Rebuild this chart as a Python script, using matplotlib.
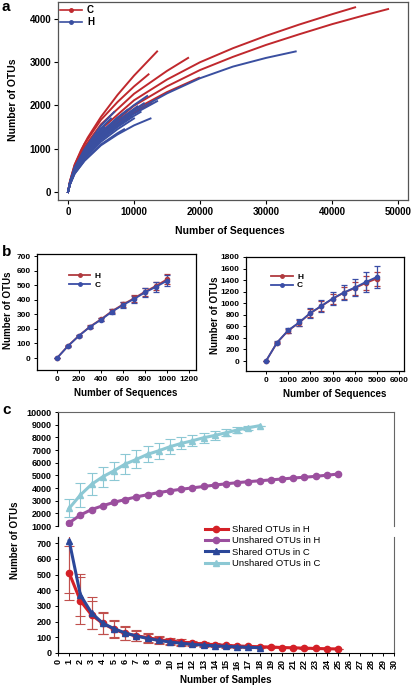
import matplotlib
matplotlib.use("Agg")
import matplotlib.pyplot as plt
from matplotlib.lines import Line2D

plt.rcParams['font.family'] = ['Liberation Sans', 'DejaVu Sans']
plt.rcParams['font.weight'] = 'bold'

# ---- panel a: rarefaction curves per sample (C red, H blue)
a_c_x = [
    [0, 300, 1000, 2000, 3000, 5000, 7500, 10000, 13500],
    [0, 300, 1000, 2500, 5000, 7500, 10000, 12200],
    [0, 300, 1000, 2500, 5000, 10000, 15000, 18200],
    [0, 300, 1000, 2500, 5000, 10000, 15000, 20000, 25000, 30000, 35000, 40000, 43500],
    [0, 300, 1000, 2500, 5000, 10000, 15000, 20000, 25000, 30000, 35000, 40000, 45000, 48500],
    [0, 300, 1000, 2500, 5000, 10000, 15000, 19850],
    [0, 300, 1000, 2500, 5000, 7500, 10000, 12700],
    [0, 300, 1000, 2500, 5000, 7500, 9000],
]
a_c_y = [
    [0, 255, 630, 976, 1260, 1738, 2244, 2690, 3250],
    [0, 245, 618, 1113, 1670, 2080, 2440, 2720],
    [0, 230, 580, 1043, 1565, 2270, 2800, 3100],
    [0, 213, 526, 955, 1450, 2120, 2600, 3000, 3325, 3610, 3870, 4110, 4270],
    [0, 200, 495, 898, 1361, 1995, 2443, 2820, 3125, 3400, 3645, 3880, 4090, 4230],
    [0, 192, 475, 860, 1300, 1900, 2310, 2640],
    [0, 195, 480, 870, 1280, 1580, 1830, 2050],
    [0, 185, 460, 840, 1260, 1560, 1700],
]
a_h_x = [
    [0, 300, 1000, 2500, 5000, 10000, 15000, 20000, 25000, 30000, 34500],
    [0, 300, 1000, 2500, 5000, 7500, 10000, 12000],
    [0, 300, 1000, 2500, 5000, 7500, 10000, 13500],
    [0, 300, 1000, 2500, 5000, 7500, 9700],
    [0, 300, 1000, 2500, 5000, 7000],
    [0, 300, 1000, 2500, 5000, 6000],
    [0, 300, 1000, 2500, 5000, 8000],
    [0, 300, 1000, 2500, 5000, 7500, 10500],
    [0, 300, 1000, 2500, 5000, 5500],
    [0, 300, 1000, 2500, 5000, 7500, 10000, 11000],
    [0, 300, 1000, 2500, 5000, 7500, 9000],
    [0, 300, 1000, 2500, 5000, 7500],
    [0, 300, 1000, 2500, 5000, 7500, 10000, 12500],
    [0, 300, 1000, 2500, 5000, 7500, 8500],
    [0, 300, 1000, 2500, 5000, 6500],
    [0, 300, 1000, 2500, 5000, 7500, 10000],
    [0, 300, 1000, 2500, 5000, 7500, 10000, 11500],
]
a_h_y = [
    [0, 187, 462, 838, 1270, 1860, 2280, 2630, 2900, 3100, 3250],
    [0, 210, 520, 940, 1370, 1715, 2010, 2220],
    [0, 200, 487, 843, 1278, 1565, 1807, 2100],
    [0, 195, 477, 825, 1250, 1530, 1740],
    [0, 225, 565, 990, 1537, 1850],
    [0, 205, 505, 875, 1312, 1450],
    [0, 192, 470, 815, 1235, 1600],
    [0, 203, 500, 870, 1316, 1645, 1980],
    [0, 220, 550, 950, 1425, 1500],
    [0, 188, 460, 795, 1200, 1500, 1760, 1850],
    [0, 212, 525, 915, 1380, 1720, 1900],
    [0, 210, 520, 900, 1360, 1700],
    [0, 175, 420, 720, 1080, 1330, 1540, 1700],
    [0, 175, 425, 730, 1100, 1360, 1450],
    [0, 222, 555, 970, 1472, 1700],
    [0, 182, 445, 770, 1162, 1452, 1700],
    [0, 200, 495, 860, 1298, 1622, 1900, 2050],
]

# ---- panel b: mean rarefaction with error bars
b1_seq = [0, 100, 200, 300, 400, 500, 600, 700, 800, 900, 1000]
b1_h = [0, 84, 154, 216, 266, 322, 368, 410, 455, 495, 540]
b1_h_err = [0, 4, 6, 9, 12, 15, 18, 22, 26, 30, 35]
b1_c = [0, 82, 153, 214, 263, 318, 364, 405, 450, 489, 530]
b1_c_err = [0, 4, 6, 9, 12, 16, 19, 24, 28, 33, 38]

b2_seq = [0, 500, 1000, 1500, 2000, 2500, 3000, 3500, 4000, 4500, 5000]
b2_h = [0, 318, 525, 664, 828, 950, 1075, 1180, 1260, 1350, 1426]
b2_h_err = [0, 15, 35, 50, 65, 80, 90, 100, 110, 115, 120]
b2_c = [0, 320, 531, 668, 831, 954, 1080, 1184, 1270, 1367, 1454]
b2_c_err = [0, 18, 40, 60, 80, 100, 115, 130, 150, 165, 185]

# ---- panel c: shared / unshared OTUs vs number of samples
samples_h = list(range(1, 26))
samples_c = list(range(1, 19))
shared_h = [510, 333, 242, 189, 151, 125, 110, 98, 85, 76, 70, 64, 57, 53, 49,
            45, 42, 40, 38, 35, 33, 31, 29, 27, 26]
shared_h_err = [170, 150, 90, 68, 55, 42, 35, 28, 24, 20, 17, 14, 12, 10, 9,
                8, 7, 6, 5, 4, 4, 3, 3, 2, 2]
shared_c = [715, 370, 255, 190, 155, 128, 108, 93, 80, 70, 62, 55, 50, 46, 42,
            39, 36, 34]
shared_c_err = [335, 135, 100, 70, 55, 42, 33, 27, 22, 18, 15, 13, 11, 9, 8,
                7, 6, 5]
unshared_h = [1250, 1870, 2300, 2600, 2870, 3090, 3300, 3470, 3640, 3780, 3900,
              4010, 4120, 4230, 4330, 4420, 4500, 4570, 4640, 4710, 4790, 4850,
              4920, 5010, 5100]
unshared_h_err = [120, 100, 90, 80, 80, 70, 70, 60, 60, 60, 50, 50, 50, 40, 40,
                  40, 30, 30, 30, 30, 20, 20, 20, 10, 0]
unshared_c = [2400, 3450, 4290, 4890, 5360, 5890, 6260, 6660, 6940, 7260, 7520,
              7730, 7970, 8150, 8360, 8580, 8760, 8920]
unshared_c_err = [700, 920, 880, 800, 720, 770, 710, 630, 630, 580, 480, 450,
                  390, 370, 290, 210, 150, 0]

RED_A = '#C0282D'
BLUE_A = '#3A4FA0'
RED_B = '#B03A3F'
BLUE_B = '#3A4DA6'
C_RED = '#D42027'
C_PURPLE = '#9B4F9E'
C_BLUE = '#2B4799'
C_LIGHT = '#8CC8D4'
ERR_RED = '#C0504D'

W, H = 413, 687


def fx(x):
    return x / W


def fy(y):
    return 1 - y / H


def rect(left, top, right, bottom):
    return [fx(left), fy(bottom), (right - left) / W, (bottom - top) / H]


fig = plt.figure(figsize=(W / 100, H / 100), dpi=100)

# ================= panel a
ax = fig.add_axes(rect(58, 2, 408, 200))
for xs, ys in zip(a_c_x, a_c_y):
    ax.plot(xs, ys, color=RED_A, lw=1.4)
for xs, ys in zip(a_h_x, a_h_y):
    ax.plot(xs, ys, color=BLUE_A, lw=1.4)
ax.set_xlim(-1515, 51515)
ax.set_ylim(-185, 4393)
ax.set_xticks([0, 10000, 20000, 30000, 40000, 50000])
ax.set_yticks([0, 1000, 2000, 3000, 4000])
ax.tick_params(direction='out', length=3, width=0.8, labelsize=7, pad=2)
for s in ax.spines.values():
    s.set_color('#555555')
    s.set_linewidth(0.9)
handles = [Line2D([], [], color=RED_A, lw=1.2, marker='o', markersize=2.5),
           Line2D([], [], color=BLUE_A, lw=1.2, marker='o', markersize=2.5)]
ax.legend(handles, ['C', 'H'], loc='upper left', bbox_to_anchor=(0.005, 0.985),
          frameon=False, fontsize=7, handlelength=2.3, handletextpad=0.5,
          labelspacing=0.2, borderpad=0, borderaxespad=0)
fig.text(fx(230), fy(231), 'Number of Sequences', ha='center', va='center',
         fontsize=7.5, fontweight='bold')
fig.text(fx(13), fy(100), 'Number of OTUs', ha='center', va='center',
         rotation=90, fontsize=7.5, fontweight='bold')
fig.text(fx(2), fy(7), 'a', ha='left', va='center', fontsize=11, fontweight='bold')

# ================= panel b
def panel_b(box, seq, h, h_err, c, c_err, xlim, ylim, xticks, yticks, leg_anchor):
    axb = fig.add_axes(rect(*box))
    axb.errorbar(seq, h, yerr=h_err, color=RED_B, lw=1.3, marker='o', markersize=3,
                 capsize=2, elinewidth=0.9, capthick=0.9)
    axb.errorbar(seq, c, yerr=c_err, color=BLUE_B, lw=1.3, marker='o', markersize=3,
                 capsize=2, elinewidth=0.9, capthick=0.9)
    axb.set_xlim(*xlim)
    axb.set_ylim(*ylim)
    axb.set_xticks(xticks)
    axb.set_yticks(yticks)
    axb.tick_params(direction='out', length=2.5, width=0.7, labelsize=6, pad=2)
    for s in axb.spines.values():
        s.set_linewidth(0.9)
    hh = [Line2D([], [], color=RED_B, lw=1.3, marker='o', markersize=2.5),
          Line2D([], [], color=BLUE_B, lw=1.3, marker='o', markersize=2.5)]
    axb.legend(hh, ['H', 'C'], loc='upper left', bbox_to_anchor=leg_anchor,
               frameon=False, fontsize=6, handlelength=2.6, handletextpad=0.5,
               labelspacing=0.1, borderpad=0, borderaxespad=0)
    return axb


panel_b((37, 254, 196, 370), b1_seq, b1_h, b1_h_err, b1_c, b1_c_err,
        (-182, 1264), (-82, 714), [0, 200, 400, 600, 800, 1000, 1200],
        [0, 100, 200, 300, 400, 500, 600, 700], (0.2, 0.84))
panel_b((246, 257, 404, 371), b2_seq, b2_h, b2_h_err, b2_c, b2_c_err,
        (-902, 6225), (-173, 1800), [0, 1000, 2000, 3000, 4000, 5000, 6000],
        [0, 200, 400, 600, 800, 1000, 1200, 1400, 1600, 1800], (0.16, 0.86))
fig.text(fx(126), fy(393), 'Number of Sequences', ha='center', va='center',
         fontsize=7, fontweight='bold')
fig.text(fx(335), fy(394), 'Number of Sequences', ha='center', va='center',
         fontsize=7, fontweight='bold')
fig.text(fx(8), fy(310), 'Number of OTUs', ha='center', va='center',
         rotation=90, fontsize=7, fontweight='bold')
fig.text(fx(215), fy(315), 'Number of OTUs', ha='center', va='center',
         rotation=90, fontsize=7, fontweight='bold')
fig.text(fx(2), fy(252), 'b', ha='left', va='center', fontsize=11, fontweight='bold')

# ================= panel c (broken y axis)
ax_top = fig.add_axes(rect(58, 412, 394, 526))
ax_bot = fig.add_axes(rect(58, 537, 394, 653))

ax_top.errorbar(samples_c, unshared_c, yerr=unshared_c_err, color=C_LIGHT, lw=2.2,
                marker='^', markersize=4, capsize=3.5, elinewidth=0.8, capthick=0.8)
ax_top.errorbar(samples_h, unshared_h, yerr=unshared_h_err, color=C_PURPLE, lw=2.2,
                marker='o', markersize=4.5, capsize=2, elinewidth=0.8, capthick=0.8)
ax_bot.errorbar(samples_h, shared_h, yerr=shared_h_err, color=C_RED, lw=2.2,
                marker='o', markersize=4.5, ecolor=ERR_RED, capsize=3.5,
                elinewidth=0.8, capthick=0.8)
ax_bot.errorbar(samples_c, shared_c, yerr=shared_c_err, color=C_BLUE, lw=2.2,
                marker='^', markersize=4.5, ecolor=ERR_RED, capsize=3.5,
                elinewidth=0.8, capthick=0.8)

for a in (ax_top, ax_bot):
    a.set_xlim(0, 30)
    a.tick_params(direction='out', length=2.5, width=0.7, labelsize=6.5, pad=2)
    a.spines['left'].set_linewidth(0.9)
    for side in ('top', 'right', 'bottom'):
        a.spines[side].set_color('#666666')
        a.spines[side].set_linewidth(0.8)
ax_top.set_ylim(1000, 10000)
ax_top.set_yticks([1000, 2000, 3000, 4000, 5000, 6000, 7000, 8000, 9000, 10000])
ax_top.spines['bottom'].set_visible(False)
ax_top.tick_params(axis='x', bottom=False, labelbottom=False)
ax_bot.set_ylim(0, 740)
ax_bot.set_yticks([0, 100, 200, 300, 400, 500, 600, 700])
ax_bot.spines['top'].set_visible(False)
ax_bot.spines['bottom'].set_color('black')
ax_bot.set_xticks(list(range(0, 31)))
ax_bot.tick_params(axis='x', labelrotation=90)

leg_handles = [
    Line2D([], [], color=C_RED, lw=2.2, marker='o', markersize=4.5),
    Line2D([], [], color=C_PURPLE, lw=2.2, marker='o', markersize=4.5),
    Line2D([], [], color=C_BLUE, lw=2.2, marker='^', markersize=4.5),
    Line2D([], [], color=C_LIGHT, lw=2.2, marker='^', markersize=4),
]
leg_labels = ['Shared OTUs in H', 'Unshared OTUs in H', 'Shared OTUs in C',
              'Unshared OTUs in C']
leg = fig.legend(leg_handles, leg_labels, loc='upper left',
                 bbox_to_anchor=(fx(205), fy(525)), frameon=False, fontsize=6.8,
                 handlelength=2.4, handletextpad=0.5, labelspacing=0.25,
                 borderpad=0, borderaxespad=0)
for t in leg.get_texts():
    t.set_fontweight('normal')

fig.text(fx(226), fy(680), 'Number of Samples', ha='center', va='center',
         fontsize=7, fontweight='bold')
fig.text(fx(15), fy(540), 'Number of OTUs', ha='center', va='center',
         rotation=90, fontsize=7, fontweight='bold')
fig.text(fx(2), fy(410), 'c', ha='left', va='center', fontsize=11, fontweight='bold')

fig.savefig('out.png', dpi=100)
